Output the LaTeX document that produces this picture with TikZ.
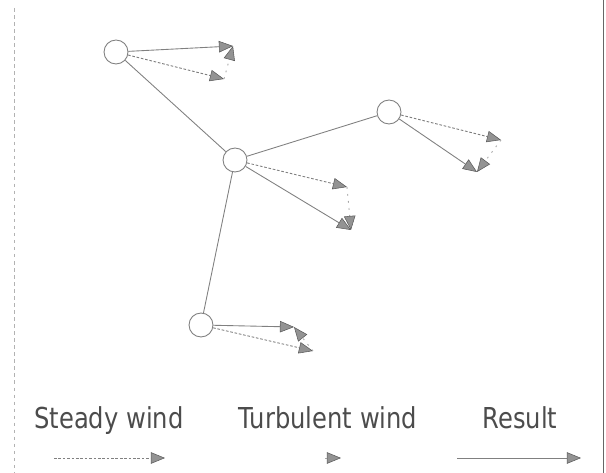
\documentclass[tikz,border=0pt]{standalone}
\usepackage{fontspec}
\setmainfont{DejaVu Sans}
\usetikzlibrary{arrows.meta}

\tikzset{
  hub/.style={circle,draw=gray,fill=white,line width=0.5pt,minimum size=0.48cm,inner sep=0pt},
  link/.style={draw=gray,line width=0.5pt},
  tipgray/.style={-{Triangle[length=8pt,width=6.5pt,color=gray!70!black,fill=gray!85,line width=0.3pt]}},
  steady/.style={tipgray,draw=gray,line width=0.5pt,dash pattern=on 1.5pt off 1pt},
  turb/.style={tipgray,draw=gray!70,line width=0.5pt,dash pattern=on 1pt off 3pt},
  result/.style={tipgray,draw=gray,line width=0.5pt},
  border/.style={draw=gray!60,line width=0.5pt},
  lbl/.style={text=black!70,font=\fontsize{16.4pt}{19pt}\selectfont,inner sep=0pt,anchor=base,xscale=0.84,transform shape}
}

\begin{document}
\begin{tikzpicture}[x=0.02cm,y=-0.02cm]
    \useasboundingbox (0,0) rectangle (606,473);
    \draw[border,dash pattern=on 2pt off 2pt] (14,8) -- (14,473);
    \draw[border,draw=gray!80!black] (603,0) -- (603,473);
    % turbines
    \node[hub] (a) at (116,52) {};
    \node[hub] (b) at (235,160) {};
    \node[hub] (c) at (389,112) {};
    \node[hub] (d) at (201,325) {};
    \draw[link] (a) -- (b);
    \draw[link] (b) -- (c);
    \draw[link] (b) -- (d);
    % wind vectors
    \foreach \h/\sx/\sy/\rx/\ry in {a/224/79/233/46,b/347/187/351/230,c/501/140/477/172,d/313/351/294/327} {
        \coordinate (\h-s) at (\sx,\sy);
        \coordinate (\h-r) at (\rx,\ry);
        \draw[steady] (\h) -- (\h-s);
        \draw[result] (\h) -- (\h-r);
        \draw[turb] (\h-s) -- (\h-r);
    }
    % legend
    \node[lbl] (steadytxt) at (109,428) {Steady wind};
    \node[lbl] (turbtxt) at (328,428) {Turbulent wind};
    \node[lbl] (resulttxt) at (520,428) {Result};
    \coordinate (s0) at (54,458);
    \coordinate (s1) at (165,458);
    \coordinate (t0) at (325,458);
    \coordinate (t1) at (341,458);
    \coordinate (r0) at (457,458);
    \coordinate (r1) at (581,458);
    \draw[steady] (s0) -- (s1);
    \draw[turb] (t0) -- (t1);
    \draw[result] (r0) -- (r1);
\end{tikzpicture}
\end{document}
